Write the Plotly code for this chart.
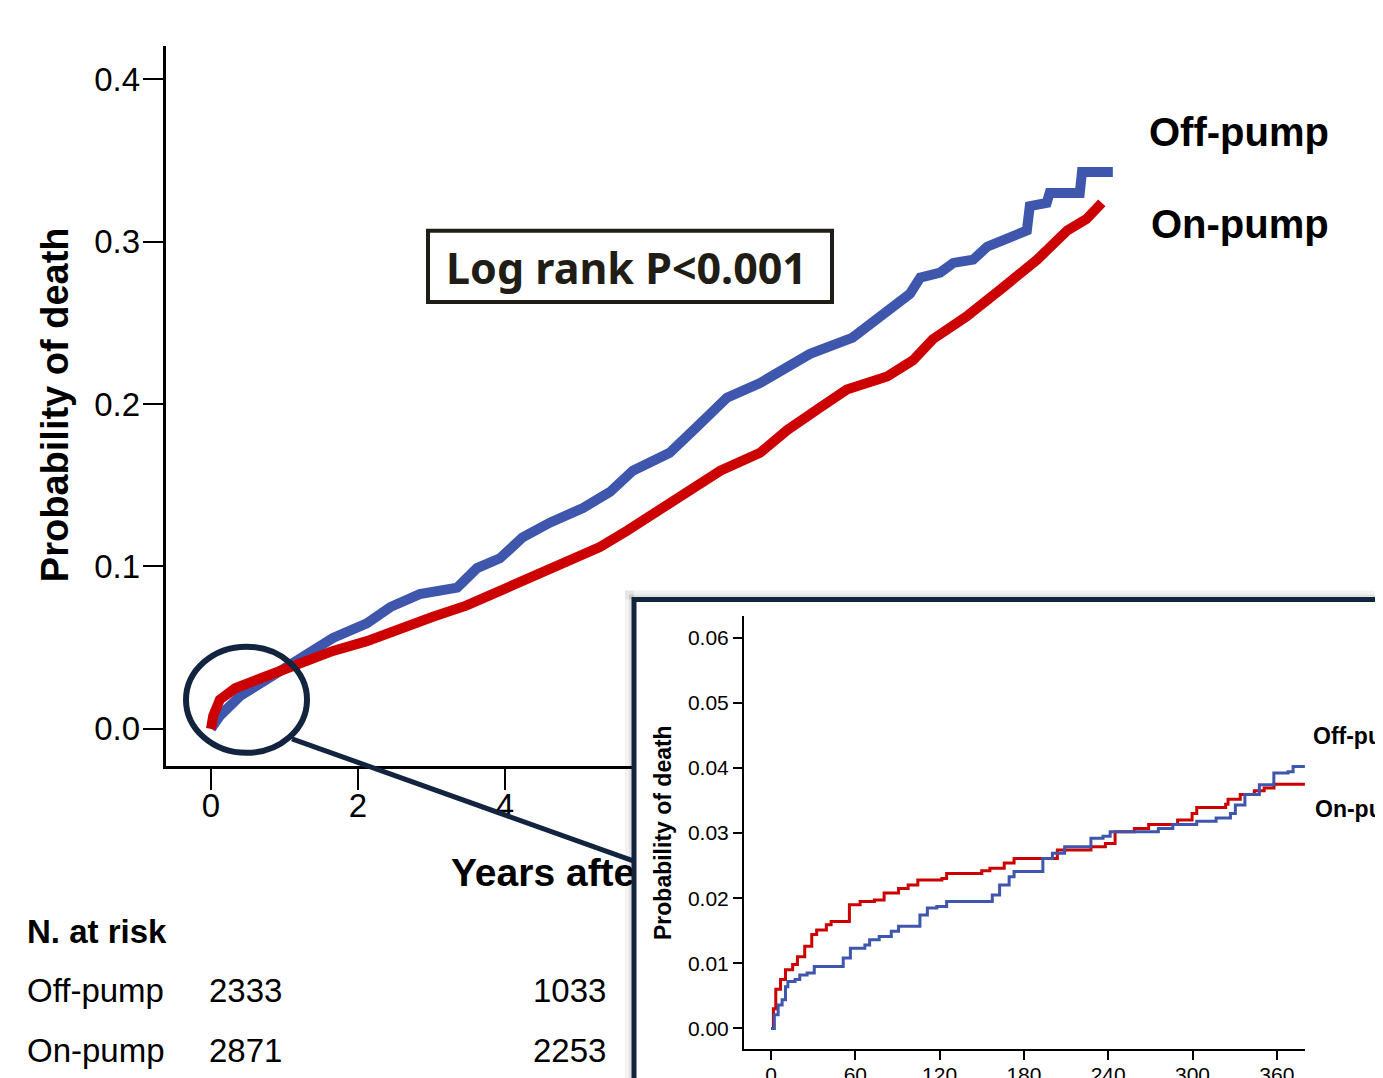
import plotly.graph_objects as go

W, H = 1383, 1078
X_SHIFT = 8            # the page places the figure 8px to the right
SY, OY = 0.985, 8.8    # the page is photographed slightly squeezed vertically

# ---------------- data ----------------
# main chart: years after surgery vs cumulative probability of death
off_years = [0, 0.12, 0.39, 0.67, 0.94, 1.21, 1.66, 2.12, 2.44, 2.84, 3.35, 3.62, 3.93, 4.24,
             4.61, 5.06, 5.43, 5.74, 5.97, 6.24, 6.61, 7.02, 7.47, 8.15, 8.73, 9.10, 9.51,
             9.65, 9.92, 10.10, 10.37, 10.56, 10.91, 11.10, 11.14, 11.37, 11.41, 11.82, 11.85,
             12.27]
off_prob = [0, 0.008, 0.020, 0.028, 0.036, 0.044, 0.056, 0.065, 0.075, 0.083, 0.087, 0.099,
            0.105, 0.118, 0.127, 0.136, 0.146, 0.159, 0.164, 0.170, 0.186, 0.204, 0.213, 0.231,
            0.241, 0.254, 0.268, 0.278, 0.281, 0.287, 0.289, 0.297, 0.303, 0.307, 0.322, 0.324,
            0.330, 0.330, 0.343, 0.343]

on_years = [0, 0.03, 0.12, 0.33, 0.67, 1.00, 1.21, 1.66, 2.12, 2.57, 3.02, 3.48, 3.93, 4.38,
            4.84, 5.29, 5.66, 5.97, 6.48, 6.93, 7.47, 7.84, 8.29, 8.65, 9.20, 9.55, 9.82,
            10.28, 10.78, 11.24, 11.65, 11.91, 12.12]
on_prob = [0, 0.008, 0.018, 0.025, 0.031, 0.037, 0.041, 0.048, 0.054, 0.062, 0.069, 0.076,
           0.085, 0.093, 0.102, 0.112, 0.122, 0.131, 0.145, 0.159, 0.170, 0.184, 0.198, 0.209,
           0.217, 0.227, 0.240, 0.254, 0.272, 0.289, 0.307, 0.314, 0.324]

# inset: first year (days)
off_days = [0, 2.4, 5.1, 7.9, 10.3, 12, 17.1, 20.5, 25.7, 30.8, 51.4, 56.5, 66.8, 70.2, 77, 85.6,
            90.8, 106, 111.3, 118, 125, 157.5, 162.7, 169.5, 173, 193.5, 200.3, 209, 227.7,
            236.3, 241.4, 275.7, 286, 303, 316.8, 327, 330.5, 337.3, 347.6, 357.9, 368, 371.6, 380]
off_dprob = [0, 0.0021, 0.0036, 0.0044, 0.0064, 0.0072, 0.0075, 0.0082, 0.0085, 0.0095, 0.0108,
             0.0123, 0.0128, 0.0136, 0.0141, 0.0149, 0.0157, 0.0174, 0.0185, 0.0187, 0.0195,
             0.0205, 0.0220, 0.0233, 0.0241, 0.0261, 0.0269, 0.0279, 0.0292, 0.0295, 0.0302,
             0.0307, 0.0313, 0.0318, 0.0323, 0.0330, 0.0343, 0.0359, 0.0374, 0.0392, 0.0394,
             0.0402, 0.0402]

on_days = [0, 1.7, 3.4, 6.8, 10.3, 15.4, 18.8, 24, 29, 32.5, 39.4, 42.8, 55.8, 63.4, 73.6, 80.5,
           90.8, 97.6, 104.5, 121.6, 125, 150, 155.8, 166, 173, 203.8, 227.7, 238, 244.9, 258.6,
           268.8, 289.4, 299.7, 303, 323.6, 325.3, 334, 344, 351, 358, 380]
on_dprob = [0, 0.003, 0.006, 0.0075, 0.009, 0.0098, 0.011, 0.0126, 0.0144, 0.0151, 0.0159, 0.0164,
            0.0190, 0.0195, 0.0197, 0.0208, 0.0215, 0.0220, 0.0228, 0.0230, 0.0238, 0.0242,
            0.0246, 0.0254, 0.0261, 0.0274, 0.0279, 0.0284, 0.0302, 0.0307, 0.0313, 0.0320,
            0.0330, 0.0339, 0.0344, 0.0352, 0.0359, 0.0365, 0.0369, 0.0375, 0.0375]

main_xticks = [0, 2, 4, 6, 8, 10, 12]
main_yticks = [0.0, 0.1, 0.2, 0.3, 0.4]
inset_xticks = [0, 60, 120, 180, 240, 300, 360]
inset_yticks = [0.00, 0.01, 0.02, 0.03, 0.04, 0.05, 0.06]

risk_groups = ["Off-pump", "On-pump"]
risk_counts = [[2333, 1033], [2871, 2253]]

# ---------------- styling / layout helpers ----------------
BLUE = "#3f56ad"
RED = "#cc0000"
NAVY = "#13243f"
FONT = "Liberation Sans"


def px(xp):
    return (xp - X_SHIFT) / W


def py(yp):
    return 1 - (yp / SY - OY) / H


# main plot pixel calibration (target picture pixels)
M_LEFT, M_RIGHT, M_TOP, M_BOT = 165.5, 1130, 47, 765
M_X0, M_XS = 211, 73.5        # pixel of year 0, pixels per year
M_Y0, M_YS = 728, 1620        # pixel of prob 0, pixels per unit
# inset pixel calibration
I_LEFT, I_RIGHT, I_TOP, I_BOT = 744, 1305, 615, 1048
I_X0, I_XS = 771, 84.3 / 60
I_Y0, I_YS = 1027, 6500
BOX_L, BOX_T = 634, 599
# strip that holds the (partly hidden) main x-axis title
T_TOP, T_BOT, T_LEFT = 845, 905, 451

fig = go.Figure()

fig.add_trace(go.Scatter(x=off_years, y=off_prob, mode="lines", xaxis="x", yaxis="y",
                         line=dict(color=BLUE, width=10), name="Off-pump"))
fig.add_trace(go.Scatter(x=on_years, y=on_prob, mode="lines", xaxis="x", yaxis="y",
                         line=dict(color=RED, width=10), name="On-pump"))

# x-axis title of the main chart, drawn in its own strip so that the inset covers it
fig.add_trace(go.Scatter(x=[0], y=[0.5], mode="text", xaxis="x2", yaxis="y2",
                         text=["Years after surgery"], textposition="middle right",
                         textfont=dict(family=FONT, size=39, color="black", weight="bold"),
                         hoverinfo="skip"))

# cover subplot (white inset background)
fig.add_trace(go.Scatter(x=[None], y=[None], xaxis="x3", yaxis="y3", mode="lines",
                         hoverinfo="skip"))

# inset curves
fig.add_trace(go.Scatter(x=on_days, y=on_dprob, mode="lines", xaxis="x4", yaxis="y4",
                         line=dict(color=RED, width=3, shape="hv")))
fig.add_trace(go.Scatter(x=off_days, y=off_dprob, mode="lines", xaxis="x4", yaxis="y4",
                         line=dict(color=BLUE, width=3, shape="hv")))

axis_common = dict(showgrid=False, zeroline=False, showline=True, linecolor="black",
                   ticks="outside", tickcolor="black")

layout = dict(
    width=W, height=H, margin=dict(l=0, r=0, t=0, b=0), autosize=False,
    paper_bgcolor="white", plot_bgcolor="white", showlegend=False,
    xaxis=dict(domain=[px(M_LEFT), px(M_RIGHT)],
               range=[(M_LEFT - M_X0) / M_XS, (M_RIGHT - M_X0) / M_XS],
               anchor="y", tickvals=main_xticks, ticklen=21, tickwidth=2, linewidth=2.5,
               ticklabelstandoff=-12,
               tickfont=dict(family=FONT, size=33, color="black"), **axis_common),
    yaxis=dict(domain=[py(M_BOT), py(M_TOP)],
               range=[(M_Y0 - M_BOT) / M_YS, (M_Y0 - M_TOP) / M_YS],
               anchor="x", tickvals=main_yticks, tickformat=".1f", ticklen=20, tickwidth=2,
               linewidth=2.5, ticklabelstandoff=-4,
               tickfont=dict(family=FONT, size=33, color="black"), **axis_common),
    xaxis2=dict(domain=[px(T_LEFT), px(M_RIGHT)], range=[0, 1], anchor="y2", visible=False,
                fixedrange=True),
    yaxis2=dict(domain=[py(T_BOT), py(T_TOP)], range=[0, 1], anchor="x2", visible=False,
                fixedrange=True),
    xaxis3=dict(domain=[px(BOX_L), 1], range=[0, 1], anchor="y3", visible=False, fixedrange=True),
    yaxis3=dict(domain=[0, py(BOX_T)], range=[0, 1], anchor="x3", visible=False, fixedrange=True),
    xaxis4=dict(domain=[px(I_LEFT), px(I_RIGHT)],
                range=[(I_LEFT - I_X0) / I_XS, (I_RIGHT - I_X0) / I_XS],
                anchor="y4", tickvals=inset_xticks, ticklen=9, tickwidth=1.5, linewidth=2,
                ticklabelstandoff=-4,
                tickfont=dict(family=FONT, size=21, color="black"), **axis_common),
    yaxis4=dict(domain=[py(I_BOT), py(I_TOP)],
                range=[(I_Y0 - I_BOT) / I_YS, (I_Y0 - I_TOP) / I_YS],
                anchor="x4", tickvals=inset_yticks, tickformat=".2f", ticklen=9, tickwidth=1.5,
                linewidth=2, tickfont=dict(family=FONT, size=21, color="black"), **axis_common),
)
fig.update_layout(**layout)

shapes = [
    # white inset background (in the cover subplot, above the main chart)
    dict(type="rect", xref="x3", yref="y3", x0=-0.1, x1=1.1, y0=-0.1, y1=1.1,
         fillcolor="white", line=dict(width=0), layer="below"),
    # soft shadow around the inset
    dict(type="rect", xref="paper", yref="paper", x0=px(BOX_L - 9), x1=px(BOX_L), y0=-0.05,
         y1=py(BOX_T - 9), fillcolor="rgba(0,0,0,0.05)", line=dict(width=0), layer="above"),
    dict(type="rect", xref="paper", yref="paper", x0=px(BOX_L - 9), x1=1.05, y0=py(BOX_T),
         y1=py(BOX_T - 9), fillcolor="rgba(0,0,0,0.05)", line=dict(width=0), layer="above"),
    dict(type="rect", xref="paper", yref="paper", x0=px(BOX_L - 5), x1=px(BOX_L), y0=-0.05,
         y1=py(BOX_T - 5), fillcolor="rgba(0,0,0,0.06)", line=dict(width=0), layer="above"),
    dict(type="rect", xref="paper", yref="paper", x0=px(BOX_L - 5), x1=1.05, y0=py(BOX_T),
         y1=py(BOX_T - 5), fillcolor="rgba(0,0,0,0.06)", line=dict(width=0), layer="above"),
    # inset border
    dict(type="rect", xref="paper", yref="paper", x0=px(BOX_L), x1=1.05, y0=-0.05, y1=py(BOX_T),
         fillcolor="rgba(0,0,0,0)", line=dict(color=NAVY, width=5), layer="above"),
    # zoom circle and connector
    dict(type="circle", xref="paper", yref="paper", x0=px(186), x1=px(307), y0=py(752), y1=py(646),
         line=dict(color=NAVY, width=6), layer="above"),
    dict(type="line", xref="paper", yref="paper", x0=px(292), y0=py(738), x1=px(BOX_L), y1=py(860),
         line=dict(color=NAVY, width=5), layer="above"),
    # log-rank box
    dict(type="rect", xref="paper", yref="paper", x0=px(428), x1=px(832), y0=py(302), y1=py(231),
         line=dict(color="#1f1d16", width=4), fillcolor="rgba(0,0,0,0)", layer="above"),
]
fig.update_layout(shapes=shapes)

ann = []


def add_text(text, xp, yp, size, bold=False, xanchor="left", family=FONT, color="black",
             angle=0):
    ann.append(dict(text=text, x=px(xp), y=py(yp), xref="paper", yref="paper", showarrow=False,
                    xanchor=xanchor, yanchor="middle", textangle=angle,
                    font=dict(family=family, size=size, color=color,
                              weight="bold" if bold else "normal")))


add_text("Probability of death", 55, 405, 38, bold=True, xanchor="center", angle=-90)
add_text("Off-pump", 1147, 132, 40, bold=True)
add_text("On-pump", 1149, 224, 40, bold=True)
add_text("Log rank P<0.001", 626, 268, 43, bold=True, xanchor="center", family="Noto Sans",
         color="#1f1d16")
# number at risk table
add_text("N. at risk", 25, 930, 33, bold=True)
row_y = [989, 1049]
col_right = [284, 608]
for gi, g in enumerate(risk_groups):
    add_text(g, 25, row_y[gi], 33)
    for ci, c in enumerate(risk_counts[gi]):
        add_text(str(c), col_right[ci], row_y[gi], 33, xanchor="right")
# inset labels
add_text("Probability of death", 663, 832, 23, bold=True, xanchor="center", angle=-90)
add_text("Off-pump", 1311, 735, 23, bold=True)
add_text("On-pump", 1313, 808, 23, bold=True)

fig.update_layout(annotations=ann)

fig.write_html("out.html")
